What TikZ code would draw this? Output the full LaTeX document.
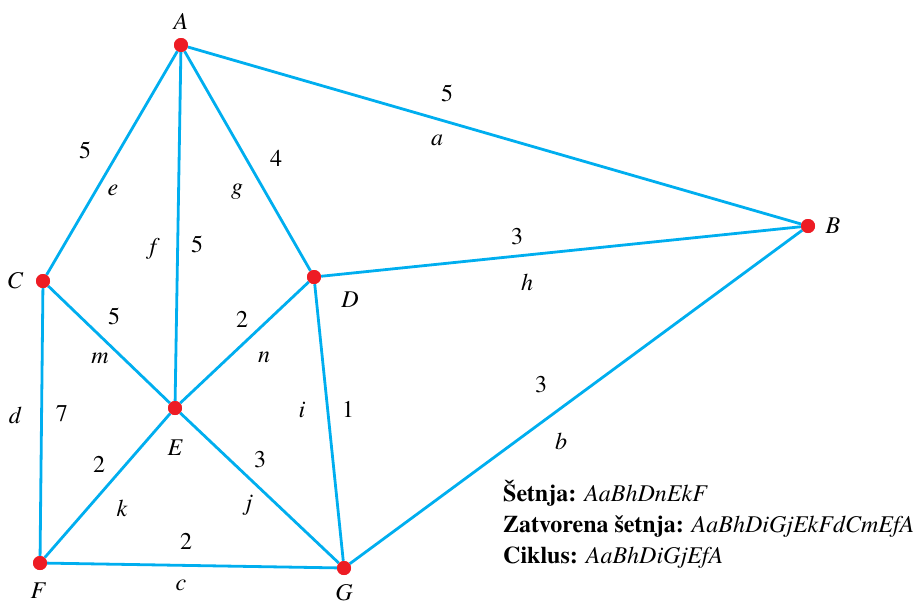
\documentclass[tikz,border=0pt]{standalone}
\usepackage{fontspec}
\setmainfont{texgyretermes}[Extension=.otf,UprightFont=*-regular,BoldFont=*-bold,ItalicFont=*-italic,BoldItalicFont=*-bolditalic]
\usepackage{tikz}
\usetikzlibrary{positioning}
\definecolor{edgeblue}{RGB}{0,174,239}
\definecolor{dotred}{RGB}{237,28,36}

\begin{document}
\begin{tikzpicture}[x=1pt,y=-1pt,
    vertex/.style={circle,fill=dotred,inner sep=0pt,minimum size=14pt},
    gedge/.style={draw=edgeblue,line width=2.8pt},
    vname/.style={font=\fontsize{24}{26}\selectfont\itshape,inner sep=0pt,text depth=0pt},
    wlabel/.style={font=\fontsize{24}{26}\selectfont,inner sep=0pt},
    elabel/.style={font=\fontsize{24}{26}\selectfont\itshape,inner sep=0pt},
    walktext/.style={font=\fontsize{24}{31}\selectfont,align=left,inner sep=0pt,anchor=north west}
]
\useasboundingbox (0,0) rectangle (914,606);
% vertices
\node[vertex] (A) at (181,45) {};
\node[vertex] (B) at (808,226) {};
\node[vertex] (C) at (43,281) {};
\node[vertex] (D) at (314,277) {};
\node[vertex] (E) at (175,408) {};
\node[vertex] (F) at (40,563) {};
\node[vertex] (G) at (344,568) {};
% edges
\draw[gedge] (A)--(B);
\draw[gedge] (A)--(C);
\draw[gedge] (A)--(E);
\draw[gedge] (A)--(D);
\draw[gedge] (D)--(B);
\draw[gedge] (C)--(E);
\draw[gedge] (D)--(E);
\draw[gedge] (D)--(G);
\draw[gedge] (B)--(G);
\draw[gedge] (C)--(F);
\draw[gedge] (E)--(F);
\draw[gedge] (E)--(G);
\draw[gedge] (F)--(G);
\node[vertex] at (A) {};
\node[vertex] at (B) {};
\node[vertex] at (C) {};
\node[vertex] at (D) {};
\node[vertex] at (E) {};
\node[vertex] at (F) {};
\node[vertex] at (G) {};
% vertex names
\node[vname] (nA) at (181,21) {A};
\node[vname] (nB) at (833,226) {B};
\node[vname] (nC) at (15,281) {C};
\node[vname] (nD) at (350,300) {D};
\node[vname] (nE) at (175,448) {E};
\node[vname] (nF) at (38,591) {F};
\node[vname] (nG) at (344,592) {G};
% weights and edge names
\node[wlabel] (wAB) at (447,93) {5};
\node[elabel] (eAB) at (437,140) {a};
\node[wlabel] (wAC) at (85,150) {5};
\node[elabel] (eAC) at (113,190) {e};
\node[wlabel] (wAE) at (197,244) {5};
\node[elabel] (eAE) at (153,249) {f};
\node[wlabel] (wAD) at (276,158) {4};
\node[elabel] (eAD) at (237,192) {g};
\node[wlabel] (wDB) at (517,237) {3};
\node[elabel] (eDB) at (527,282) {h};
\node[wlabel] (wCE) at (114,316) {5};
\node[elabel] (eCE) at (100,358) {m};
\node[wlabel] (wDE) at (242,319) {2};
\node[elabel] (eDE) at (264,357) {n};
\node[wlabel] (wDG) at (348,409) {1};
\node[elabel] (eDG) at (302,410) {i};
\node[wlabel] (wBG) at (541,385) {3};
\node[elabel] (eBG) at (561,441) {b};
\node[wlabel] (wCF) at (62,414) {7};
\node[elabel] (eCF) at (15,415) {d};
\node[wlabel] (wEF) at (99,464) {2};
\node[elabel] (eEF) at (122,508) {k};
\node[wlabel] (wEG) at (260,460) {3};
\node[elabel] (eEG) at (249,505) {j};
\node[wlabel] (wFG) at (186,541) {2};
\node[elabel] (eFG) at (181,585) {c};
% walks
\node[walktext] (walks) at (503,480)
    {\textbf{Šetnja:} \textit{AaBhDnEkF}\\
     \textbf{Zatvorena šetnja:} \textit{AaBhDiGjEkFdCmEfA}\\
     \textbf{Ciklus:} \textit{AaBhDiGjEfA}};
\end{tikzpicture}
\end{document}
